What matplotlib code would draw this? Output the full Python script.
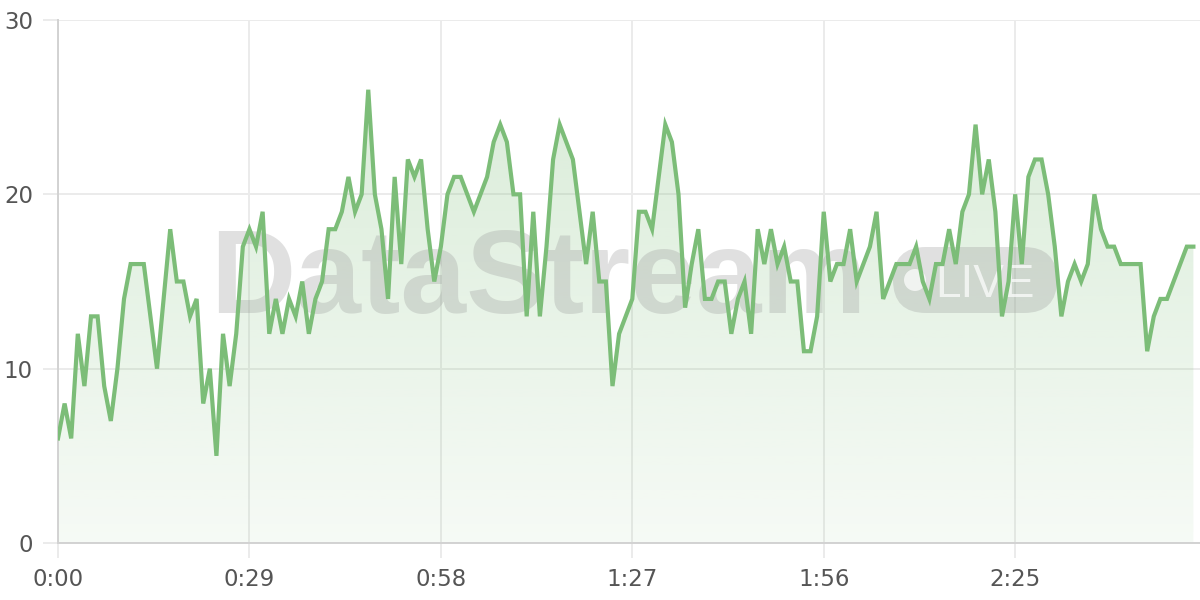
import numpy as np
import matplotlib
matplotlib.use("Agg")
from matplotlib import pyplot as plt
from matplotlib.patches import FancyBboxPatch, Circle
from matplotlib.transforms import IdentityTransform

# one reading per second
values = [6, 8, 6, 12, 9, 13, 13, 9, 7, 10, 14, 16, 16, 16, 13, 10, 14, 18, 15, 15,
          13, 14, 8, 10, 5, 12, 9, 12, 17, 18, 17, 19, 12, 14, 12, 14, 13, 15, 12, 14,
          15, 18, 18, 19, 21, 19, 20, 26, 20, 18, 14, 21, 16, 22, 21, 22, 18, 15, 17, 20,
          21, 21, 20, 19, 20, 21, 23, 24, 23, 20, 20, 13, 19, 13, 17, 22, 24, 23, 22, 19,
          16, 19, 15, 15, 9, 12, 13, 14, 19, 19, 18, 21, 24, 23, 20, 13.5, 16, 18, 14, 14,
          15, 15, 12, 14, 15, 12, 18, 16, 18, 16, 17, 15, 15, 11, 11, 13, 19, 15, 16, 16,
          18, 15, 16, 17, 19, 14, 15, 16, 16, 16, 17, 15, 14, 16, 16, 18, 16, 19, 20, 24,
          20, 22, 19, 13, 15, 20, 16, 21, 22, 22, 20, 17, 13, 15, 16, 15, 16, 20, 18, 17,
          17, 16, 16, 16, 16, 11, 13, 14, 14, 15, 16, 17, 17]
x_ticks = [0, 29, 58, 87, 116, 145]
y_ticks = [0, 10, 20, 30]

line_color = "#7cbd78"
grid_color = "#ebebeb"

plt.rcParams["font.family"] = ["DejaVu Sans"]

fig = plt.figure(figsize=(12, 6), dpi=100)
ax = fig.add_axes([58 / 1200, 57 / 600, 1142 / 1200, 523 / 600])

secs = np.arange(len(values))
vals = np.array(values, dtype=float)

# gradient fill under the line
poly = ax.fill_between(secs, vals, 0, color="none", lw=0)
n = 256
rgba = np.zeros((n, 1, 4))
rgba[..., 0] = 124 / 255
rgba[..., 1] = 189 / 255
rgba[..., 2] = 120 / 255
rgba[..., 3] = np.linspace(0.28, 0.07, n)[:, None]
im = ax.imshow(rgba, aspect="auto", extent=[0, secs[-1], 0, vals.max()],
               origin="upper", zorder=1, interpolation="bilinear")
im.set_clip_path(poly.get_paths()[0], transform=ax.transData)

ax.plot(secs, vals, color=line_color, lw=3, zorder=4, solid_joinstyle="miter")

# watermark (pixel coordinates)
wm = "#9a9a9a"
px = IdentityTransform()
ax.text(210, 600 - 313, "DataStream", transform=px,
        family="Liberation Sans", fontweight="bold", fontsize=85,
        color=wm, alpha=0.3, ha="left", va="baseline", zorder=2)
box = FancyBboxPatch((893 + 33, 600 - 280), 164 - 66, 0,
                     boxstyle="round,pad=33,rounding_size=33",
                     transform=px, facecolor=wm, edgecolor="none",
                     alpha=0.3, zorder=2)
ax.add_artist(box)
ax.add_artist(Circle((915, 600 - 280), 11, transform=px,
                     facecolor="white", edgecolor="none", alpha=0.7, zorder=3))
ax.text(935, 600 - 297, "LIVE", transform=px,
        family="Liberation Sans", fontsize=33, color="white", alpha=0.7,
        ha="left", va="baseline", zorder=3)

ax.set_xlim(0, 173)
ax.set_ylim(0, 30)
ax.set_xticks(x_ticks)
ax.set_xticklabels([f"{t // 60}:{t % 60:02d}" for t in x_ticks])
ax.set_yticks(y_ticks)
ax.grid(True, color=grid_color, lw=1.4, zorder=0)
ax.set_axisbelow(True)
for side in ["top", "right"]:
    ax.spines[side].set_visible(False)
for side in ["left", "bottom"]:
    ax.spines[side].set_color("#d2d2d2")
    ax.spines[side].set_linewidth(1.4)
ax.tick_params(axis="both", length=11, width=1.4, color=grid_color,
               labelcolor="#555555", labelsize=16.5, pad=7)

fig.savefig("out.png", dpi=100)
